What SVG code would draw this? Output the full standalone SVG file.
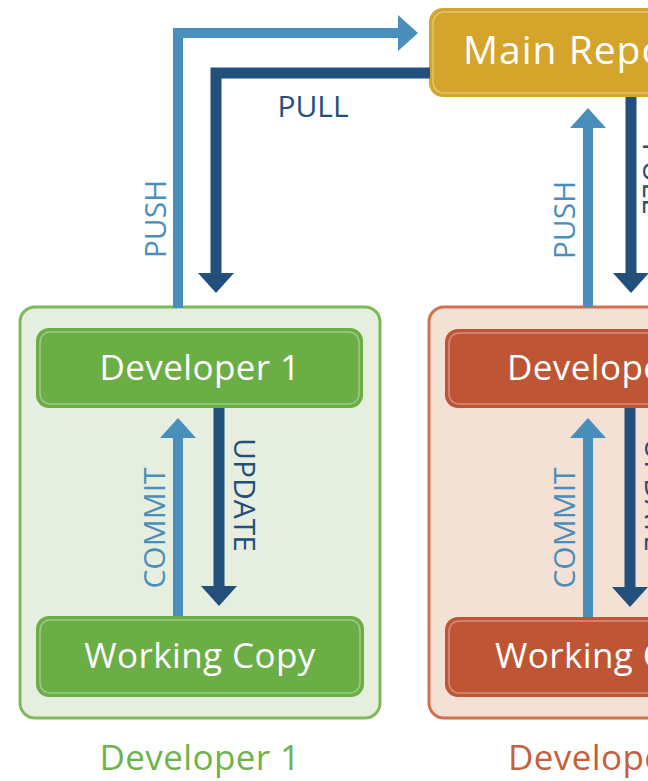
<svg xmlns="http://www.w3.org/2000/svg" width="648" height="781" viewBox="0 0 648 781">
<defs>
<style>
.lbl{font-family:"Open Sans","Liberation Sans",sans-serif;font-size:30px;}
.box{font-family:"Open Sans","Liberation Sans",sans-serif;font-size:35px;letter-spacing:0.4px;fill:#ffffff;text-anchor:middle;}
.push{fill:none;stroke:#4A8FBB;stroke-width:10;}
.pull{fill:none;stroke:#22507A;stroke-width:11;}
.inner{fill:none;stroke:#ffffff;stroke-opacity:0.35;stroke-width:1.5;}
</style>
<marker id="ahL" markerUnits="userSpaceOnUse" markerWidth="20" markerHeight="36" viewBox="0 0 20 36" refX="0" refY="18" orient="auto"><path d="M0,0 L20,18 L0,36 Z" fill="#4A8FBB"/></marker>
<marker id="ahD" markerUnits="userSpaceOnUse" markerWidth="20" markerHeight="36" viewBox="0 0 20 36" refX="0" refY="18" orient="auto"><path d="M0,0 L20,18 L0,36 Z" fill="#22507A"/></marker>
</defs>
<rect width="648" height="781" fill="#ffffff"/>

<g id="dev1-container">
<rect x="20" y="307" width="360" height="411" rx="15" fill="#E6EFDF" stroke="#7CBA5A" stroke-width="3"/>
<text x="200" y="770" class="box" style="fill:#6DB34C">Developer 1</text>
</g>
<g id="dev2-container">
<rect x="429" y="307" width="260" height="411" rx="15" fill="#F4E1D6" stroke="#D27150" stroke-width="3"/>
<text x="508" y="770" class="box" style="fill:#C65F3D;text-anchor:start">Developer 2</text>
</g>

<g id="main-repo">
<rect x="429" y="8" width="260" height="89" rx="14" fill="#D4A52A"/>
<rect x="433" y="12" width="252" height="81" rx="11" class="inner"/>
<text x="463" y="64" class="box" style="font-size:39px;letter-spacing:1px;text-anchor:start">Main Repository</text>
</g>

<g id="developer1">
<rect x="36" y="328" width="327" height="80" rx="13" fill="#6AAE45"/>
<rect x="40" y="332" width="319" height="72" rx="10" class="inner"/>
<text x="200" y="380" class="box">Developer 1</text>
</g>
<g id="working-copy1">
<rect x="36" y="616" width="328" height="81" rx="13" fill="#6AAE45"/>
<rect x="40" y="620" width="320" height="73" rx="10" class="inner"/>
<text x="200" y="668" class="box">Working Copy</text>
</g>
<g id="developer2">
<rect x="445" y="329" width="260" height="79" rx="13" fill="#BE5534"/>
<rect x="449" y="333" width="252" height="71" rx="10" class="inner"/>
<text x="507" y="380" class="box" style="text-anchor:start">Developer 2</text>
</g>
<g id="working-copy2">
<rect x="445" y="617" width="260" height="80" rx="13" fill="#BE5534"/>
<rect x="449" y="621" width="252" height="72" rx="10" class="inner"/>
<text x="495" y="668" class="box" style="text-anchor:start">Working Copy</text>
</g>

<g id="connectors">
<path class="push" d="M178,308 V33 H398" marker-end="url(#ahL)"/>
<path class="pull" d="M430,73 H216 V273" marker-end="url(#ahD)"/>
<path class="push" d="M178,616 V438" marker-end="url(#ahL)"/>
<path class="pull" d="M219,408 V586" marker-end="url(#ahD)"/>
<path class="push" d="M588,307 V128" marker-end="url(#ahL)"/>
<path class="pull" d="M631,97 V273" marker-end="url(#ahD)"/>
<path class="push" d="M588,617 V438" marker-end="url(#ahL)"/>
<path class="pull" d="M630,408 V587" marker-end="url(#ahD)"/>
<text x="313" y="117" class="lbl" fill="#22507A" text-anchor="middle">PULL</text>
<text transform="translate(166,219) rotate(-90)" class="lbl" fill="#4A8FBB" text-anchor="middle">PUSH</text>
<text transform="translate(165,528) rotate(-90)" class="lbl" fill="#4A8FBB" text-anchor="middle">COMMIT</text>
<text transform="translate(234,495) rotate(90)" class="lbl" fill="#22507A" text-anchor="middle">UPDATE</text>
<text transform="translate(575,220) rotate(-90)" class="lbl" fill="#4A8FBB" text-anchor="middle">PUSH</text>
<text transform="translate(575,528) rotate(-90)" class="lbl" fill="#4A8FBB" text-anchor="middle">COMMIT</text>
<text transform="translate(643,178) rotate(90)" class="lbl" fill="#22507A" text-anchor="middle">PULL</text>
<text transform="translate(645,495) rotate(90)" class="lbl" fill="#22507A" text-anchor="middle">UPDATE</text>
</g>
</svg>
